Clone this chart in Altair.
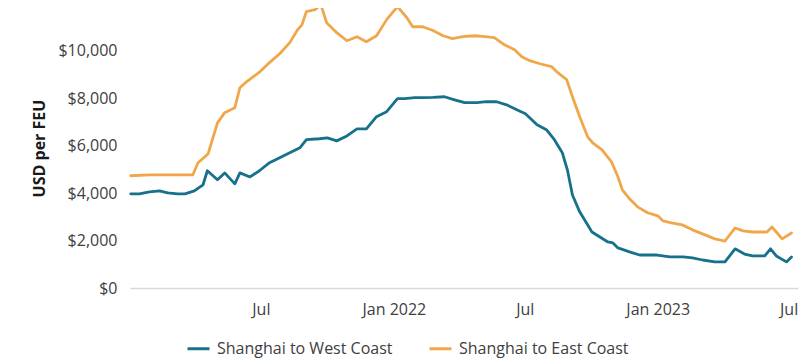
import altair as alt
import pandas as pd

# Shanghai -> US West Coast, USD per FEU
west_dates = [
    "2021-01-02", "2021-01-14", "2021-01-28", "2021-02-11", "2021-02-22", "2021-03-08",
    "2021-03-18", "2021-03-31", "2021-04-12", "2021-04-18", "2021-05-02", "2021-05-12",
    "2021-05-26", "2021-06-02", "2021-06-16", "2021-06-29", "2021-07-13", "2021-07-27",
    "2021-08-10", "2021-08-24", "2021-09-02", "2021-09-20", "2021-10-01", "2021-10-14",
    "2021-10-28", "2021-11-11", "2021-11-24", "2021-12-08", "2021-12-22", "2022-01-06",
    "2022-01-16", "2022-01-30", "2022-02-10", "2022-02-24", "2022-03-12", "2022-03-26",
    "2022-04-09", "2022-04-26", "2022-05-09", "2022-05-23", "2022-06-06", "2022-06-20",
    "2022-07-02", "2022-07-18", "2022-07-31", "2022-08-11", "2022-08-22", "2022-08-29",
    "2022-09-05", "2022-09-15", "2022-10-02", "2022-10-13", "2022-10-24", "2022-10-31",
    "2022-11-07", "2022-11-23", "2022-12-07", "2022-12-31", "2023-01-18", "2023-02-05",
    "2023-02-18", "2023-03-04", "2023-03-21", "2023-04-04", "2023-04-18", "2023-05-01",
    "2023-05-12", "2023-05-29", "2023-06-06", "2023-06-14", "2023-06-28", "2023-07-05",
]
west_values = [
    3970, 3970, 4050, 4090, 4010, 3970,
    3970, 4090, 4350, 4940, 4560, 4850,
    4390, 4850, 4680, 4940, 5280, 5490,
    5700, 5910, 6250, 6290, 6330, 6200,
    6410, 6710, 6710, 7220, 7430, 7980,
    7980, 8020, 8020, 8030, 8060, 7930,
    7810, 7810, 7850, 7850, 7720, 7510,
    7340, 6880, 6670, 6250, 5700, 4980,
    3920, 3210, 2360, 2150, 1940, 1900,
    1690, 1520, 1390, 1390, 1310, 1310,
    1270, 1180, 1100, 1100, 1650, 1430,
    1350, 1350, 1650, 1350, 1100, 1310,
]

# Shanghai -> US East Coast, USD per FEU
east_dates = [
    "2021-01-02", "2021-01-28", "2021-02-25", "2021-03-29", "2021-04-05", "2021-04-19",
    "2021-05-02", "2021-05-12", "2021-05-26", "2021-06-02", "2021-06-11", "2021-06-30",
    "2021-07-13", "2021-07-27", "2021-08-10", "2021-08-21", "2021-08-27", "2021-09-02",
    "2021-09-14", "2021-09-22", "2021-09-30", "2021-10-14", "2021-10-28", "2021-11-11",
    "2021-11-24", "2021-12-08", "2021-12-22", "2022-01-06", "2022-01-19", "2022-01-27",
    "2022-02-10", "2022-02-24", "2022-03-10", "2022-03-23", "2022-04-06", "2022-04-23",
    "2022-05-07", "2022-05-20", "2022-06-03", "2022-06-17", "2022-06-27", "2022-07-08",
    "2022-07-22", "2022-08-07", "2022-08-14", "2022-08-28", "2022-09-05", "2022-09-15",
    "2022-09-26", "2022-10-03", "2022-10-16", "2022-10-29", "2022-11-07", "2022-11-13",
    "2022-11-23", "2022-12-04", "2022-12-18", "2023-01-01", "2023-01-08", "2023-01-20",
    "2023-02-04", "2023-02-18", "2023-03-04", "2023-03-21", "2023-04-04", "2023-04-18",
    "2023-04-29", "2023-05-12", "2023-06-01", "2023-06-08", "2023-06-14", "2023-06-22",
    "2023-07-05",
]
east_values = [
    4730, 4770, 4770, 4770, 5280, 5650,
    6960, 7390, 7600, 8440, 8690, 9120,
    9500, 9870, 10340, 10890, 11100, 11650,
    11730, 11940, 11180, 10760, 10420, 10590,
    10380, 10630, 11310, 11860, 11390, 11010,
    11010, 10850, 10630, 10510, 10590, 10630,
    10590, 10550, 10250, 10040, 9750, 9580,
    9450, 9330, 9120, 8780, 8060, 7220,
    6370, 6120, 5820, 5320, 4680, 4140,
    3760, 3420, 3170, 3040, 2830, 2740,
    2660, 2450, 2280, 2070, 1980, 2530,
    2410, 2360, 2360, 2570, 2360, 2070,
    2320,
]

series_names = ["Shanghai to West Coast", "Shanghai to East Coast"]
series_colors = ["#17718b", "#f0a74b"]
x_tick_dates = [(2021, 7), (2022, 1), (2022, 7), (2023, 1), (2023, 7)]
y_tick_values = [0, 2000, 4000, 6000, 8000, 10000]

df = pd.concat([
    pd.DataFrame({"date": west_dates, "value": west_values, "route": series_names[0]}),
    pd.DataFrame({"date": east_dates, "value": east_values, "route": series_names[1]}),
], ignore_index=True)

FONT = "Open Sans"

chart = alt.Chart(df).mark_line(strokeWidth=2.8, strokeJoin="round", strokeCap="round").encode(
    x=alt.X(
        "date:T",
        scale=alt.Scale(
            type="utc",
            domain=[alt.DateTime(year=2021, month=1, date=1, utc=True),
                    alt.DateTime(year=2023, month=7, date=14, utc=True)],
            nice=False,
        ),
        axis=alt.Axis(
            title=None,
            values=[alt.DateTime(year=y, month=m, date=1, utc=True) for y, m in x_tick_dates],
            labelExpr="utcFormat(datum.value, '%m') == '01' ? utcFormat(datum.value, '%b %Y') : utcFormat(datum.value, '%b')",
            ticks=False,
            grid=False,
            domainColor="#d9d9d9",
            domainWidth=1.5,
            labelPadding=13,
            labelFontSize=16,
            labelFont=FONT,
            labelColor="#404040",
        ),
    ),
    y=alt.Y(
        "value:Q",
        scale=alt.Scale(domain=[0, 11800], nice=False),
        axis=alt.Axis(
            title="USD per FEU",
            values=y_tick_values,
            format="$,.0f",
            ticks=False,
            grid=False,
            domain=False,
            labelPadding=13,
            labelFontSize=16,
            labelFont=FONT,
            labelColor="#404040",
            titleFont=FONT,
            titleFontSize=16,
            titleFontWeight="bold",
            titleColor="#1a1a1a",
            titlePadding=10,
        ),
    ),
    color=alt.Color(
        "route:N",
        scale=alt.Scale(domain=series_names, range=series_colors),
        legend=alt.Legend(
            title=None,
            orient="none",
            direction="horizontal",
            legendX=56,
            legendY=328,
            symbolType="stroke",
            symbolSize=484,
            symbolStrokeWidth=3,
            labelFont=FONT,
            labelFontSize=16,
            labelColor="#404040",
            labelOffset=6,
            labelLimit=400,
            columnPadding=30,
        ),
    ),
).properties(
    width=668,
    height=280,
    autosize=alt.AutoSizeParams(type="none"),
    padding={"left": 122, "top": 0, "right": 2, "bottom": 70},
).configure_view(stroke=None)

chart.save("out.html", embed_options={"renderer": "svg", "actions": False})
